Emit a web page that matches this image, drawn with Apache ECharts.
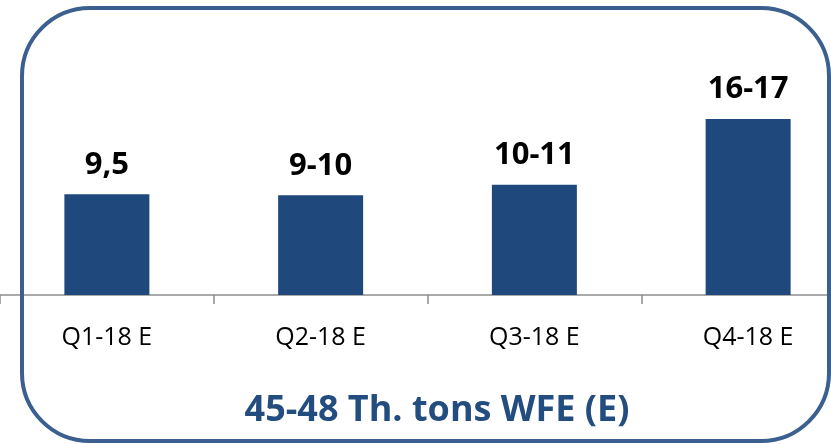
<!DOCTYPE html>
<html>
<head>
<meta charset="utf-8">
<script src="https://cdn.jsdelivr.net/npm/echarts@6/dist/echarts.min.js"></script>
<style>
  html, body { margin: 0; padding: 0; background: #fff; }
  #myChart { width: 831px; height: 444px; }
</style>
</head>
<body>
<div id="myChart"></div>
<script>
  // 数据
  var categories = ['Q1-18 E', 'Q2-18 E', 'Q3-18 E', 'Q4-18 E']
  var values = [9.5, 9.4, 10.4, 16.6]
  var valueLabels = ['9,5', '9-10', '10-11', '16-17']
  var titleText = '45-48 Th. tons WFE (E)'

  var myChart = echarts.init(document.getElementById('myChart'))
  myChart.setOption({
    animation: false,
    title: {
      text: titleText,
      left: 432,
      top: 388,
      textAlign: 'center',
      textStyle: {
        fontFamily: 'Open Sans',
        fontSize: 36,
        fontWeight: 'bold',
        color: '#244d7f'
      }
    },
    // 圆角边框
    graphic: [{
      type: 'rect',
      z: 100,
      shape: { x: 22, y: 8, width: 807, height: 433, r: 68 },
      style: { fill: 'none', stroke: '#3b6090', lineWidth: 4 }
    }],
    grid: { left: 0, width: 855, top: 83, bottom: 149, outerBoundsMode: 'none', containLabel: false },
    xAxis: {
      type: 'category',
      data: categories,
      axisLine: { lineStyle: { color: '#8c8c8c', width: 1.5 } },
      axisTick: { show: true, length: 9, lineStyle: { color: '#8c8c8c', width: 1.5 } },
      axisLabel: {
        margin: 30,
        fontFamily: 'Open Sans',
        fontSize: 25,
        color: '#000'
      }
    },
    yAxis: {
      type: 'value',
      min: 0,
      max: 20,
      show: false,
      splitLine: { show: false }
    },
    series: [{
      type: 'bar',
      data: values,
      barWidth: 85,
      itemStyle: { color: '#1f497d' },
      label: {
        show: true,
        position: 'top',
        distance: 14,
        fontFamily: 'Open Sans',
        fontSize: 31,
        fontWeight: 'bold',
        color: '#000',
        formatter: function (p) { return valueLabels[p.dataIndex] }
      }
    }]
  })
</script>
</body>
</html>
